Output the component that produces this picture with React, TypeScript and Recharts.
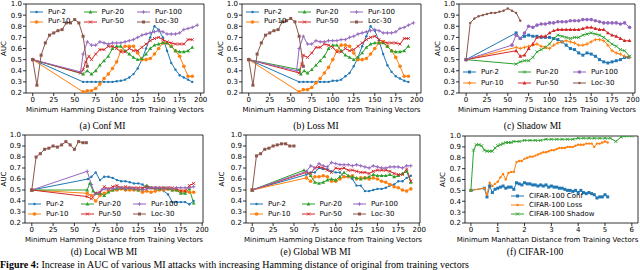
import React from 'react';
import { LineChart, Line, XAxis, YAxis, ReferenceArea } from 'recharts';

type Pt = [number, number];

const aucTicks = [0.2, 0.3, 0.4, 0.5, 0.6, 0.7, 0.8, 0.9, 1.0];
const hammingTicks = [0, 25, 50, 75, 100, 125, 150, 175, 200];
const manhattanTicks = [0, 1, 2, 3, 4, 5, 6];
const purNames = ['Pur-2', 'Pur-10', 'Pur-20', 'Pur-50', 'Pur-100', 'Loc-30'];
const cifarNames = ['CIFAR-100 Conf', 'CIFAR-100 Loss', 'CIFAR-100 Shadow'];
const hammingLabel = 'Minimum Hamming Distance from Training Vectors';
const manhattanLabel = 'Minimum Manhattan Distance from Training Vectors';

// (a) Conf MI
const confPur2: Pt[] = [[0,0.5],[60,0.30],[65,0.30],[70,0.30],[75,0.30],[80,0.30],[85,0.30],[90,0.30],[95,0.30],[100,0.305],[105,0.31],[110,0.32],[115,0.34],[120,0.37],[125,0.42],[130,0.50],[135,0.60],[140,0.70],[145,0.80],[150,0.77],[155,0.70],[160,0.58],[165,0.47],[170,0.41],[175,0.36],[180,0.34],[185,0.32],[190,0.30]];
const confPur10: Pt[] = [[0,0.5],[60,0.21],[65,0.22],[70,0.22],[75,0.24],[80,0.28],[85,0.33],[90,0.37],[95,0.42],[100,0.48],[105,0.58],[110,0.62],[115,0.62],[120,0.62],[125,0.56],[130,0.50],[135,0.50],[140,0.51],[145,0.55],[150,0.60],[155,0.65],[160,0.65],[165,0.62],[170,0.58],[175,0.53],[180,0.44],[185,0.35],[190,0.35]];
const confPur20: Pt[] = [[0,0.5],[60,0.37],[65,0.40],[70,0.37],[75,0.40],[80,0.45],[85,0.49],[90,0.53],[95,0.60],[100,0.62],[105,0.62],[110,0.58],[115,0.55],[120,0.52],[125,0.50],[130,0.51],[135,0.55],[140,0.60],[145,0.63],[150,0.64],[155,0.65],[160,0.65],[165,0.62],[170,0.58],[175,0.57],[180,0.57],[185,0.58],[190,0.61]];
const confPur50: Pt[] = [[0,0.5],[57,0.38],[60,0.41],[63,0.48],[67,0.53],[70,0.50],[75,0.55],[80,0.59],[85,0.59],[90,0.62],[95,0.62],[100,0.60],[105,0.57],[110,0.57],[115,0.60],[120,0.58],[125,0.58],[130,0.61],[135,0.64],[140,0.67],[145,0.69],[150,0.70],[155,0.68],[160,0.66],[165,0.65],[170,0.64],[175,0.64],[180,0.64],[185,0.68],[190,0.68]];
const confPur100: Pt[] = [[0,0.5],[57,0.39],[60,0.55],[65,0.66],[70,0.63],[75,0.63],[80,0.66],[85,0.65],[90,0.64],[95,0.65],[100,0.65],[105,0.65],[110,0.66],[115,0.67],[120,0.68],[125,0.70],[130,0.72],[135,0.73],[140,0.74],[145,0.75],[150,0.76],[155,0.75],[160,0.73],[165,0.73],[170,0.73],[175,0.74],[180,0.77],[185,0.78],[190,0.79],[196,0.81]];
const confLoc30: Pt[] = [[0,0.5],[5,0.27],[10,0.54],[15,0.65],[20,0.72],[25,0.74],[30,0.76],[35,0.77],[40,0.83],[45,0.83],[50,0.86],[55,0.83],[60,0.71],[65,0.44]];

// (b) Loss MI
const lossPur2: Pt[] = [[0,0.5],[60,0.30],[65,0.30],[70,0.30],[75,0.30],[80,0.30],[85,0.30],[90,0.30],[95,0.30],[100,0.31],[105,0.31],[110,0.32],[115,0.35],[120,0.38],[125,0.44],[130,0.52],[135,0.62],[140,0.71],[145,0.80],[150,0.76],[155,0.67],[160,0.55],[165,0.45],[170,0.39],[175,0.35],[180,0.33],[185,0.31],[190,0.30]];
const lossPur10: Pt[] = [[0,0.5],[60,0.21],[65,0.23],[70,0.23],[75,0.25],[80,0.29],[85,0.33],[90,0.38],[95,0.43],[100,0.50],[105,0.58],[110,0.63],[115,0.63],[120,0.62],[125,0.56],[130,0.50],[135,0.50],[140,0.51],[145,0.55],[150,0.60],[155,0.65],[160,0.66],[165,0.62],[170,0.58],[175,0.52],[180,0.44],[185,0.35],[190,0.35]];
const lossPur20: Pt[] = [[0,0.5],[60,0.41],[62,0.37],[66,0.40],[70,0.38],[75,0.41],[80,0.45],[85,0.49],[90,0.53],[95,0.60],[100,0.63],[105,0.63],[110,0.58],[115,0.54],[120,0.52],[125,0.50],[130,0.52],[135,0.56],[140,0.61],[145,0.64],[150,0.65],[155,0.65],[160,0.65],[165,0.62],[170,0.58],[175,0.57],[180,0.57],[185,0.58],[190,0.62]];
const lossPur50: Pt[] = [[0,0.5],[60,0.38],[63,0.46],[65,0.54],[70,0.52],[75,0.56],[80,0.61],[85,0.61],[90,0.64],[95,0.63],[100,0.61],[105,0.57],[110,0.57],[115,0.60],[120,0.58],[125,0.59],[130,0.62],[135,0.65],[140,0.68],[145,0.70],[150,0.71],[155,0.68],[160,0.66],[165,0.65],[170,0.65],[175,0.65],[180,0.64],[185,0.69],[190,0.69]];
const lossPur100: Pt[] = [[0,0.5],[57,0.40],[60,0.60],[65,0.71],[70,0.64],[75,0.64],[80,0.67],[85,0.66],[90,0.66],[95,0.67],[100,0.67],[105,0.67],[110,0.68],[115,0.68],[120,0.70],[125,0.71],[130,0.73],[135,0.74],[140,0.75],[145,0.76],[150,0.77],[155,0.76],[160,0.74],[165,0.74],[170,0.74],[175,0.75],[180,0.78],[185,0.79],[190,0.81],[196,0.83]];
const lossLoc30: Pt[] = [[0,0.5],[5,0.27],[10,0.55],[15,0.65],[20,0.72],[25,0.74],[30,0.76],[35,0.77],[40,0.84],[45,0.85],[50,0.87],[55,0.84],[60,0.71],[65,0.44]];

// (c) Shadow MI
const shadowPur2: Pt[] = [[0,0.5],[60,0.74],[65,0.69],[70,0.71],[75,0.72],[80,0.71],[85,0.71],[90,0.70],[95,0.70],[100,0.70],[105,0.69],[110,0.68],[115,0.66],[120,0.63],[125,0.60],[130,0.59],[135,0.56],[140,0.54],[145,0.56],[150,0.55],[155,0.53],[160,0.50],[165,0.48],[170,0.47],[175,0.48],[180,0.49],[185,0.50],[190,0.52],[195,0.52]];
const shadowPur10: Pt[] = [[0,0.5],[60,0.61],[65,0.60],[70,0.61],[75,0.62],[80,0.63],[85,0.64],[90,0.62],[95,0.61],[100,0.60],[105,0.63],[110,0.65],[115,0.66],[120,0.67],[125,0.66],[130,0.65],[135,0.63],[140,0.63],[145,0.64],[150,0.66],[155,0.68],[160,0.68],[165,0.67],[170,0.63],[175,0.58],[180,0.56],[185,0.55],[190,0.53],[196,0.52]];
const shadowPur20: Pt[] = [[0,0.5],[60,0.46],[65,0.48],[70,0.49],[75,0.49],[80,0.52],[85,0.57],[90,0.59],[95,0.61],[100,0.64],[105,0.69],[110,0.72],[115,0.71],[120,0.70],[125,0.69],[130,0.70],[135,0.70],[140,0.72],[145,0.73],[150,0.74],[155,0.73],[160,0.72],[165,0.70],[170,0.67],[175,0.64],[180,0.62],[185,0.59],[190,0.58],[196,0.53]];
const shadowPur50: Pt[] = [[0,0.5],[60,0.58],[65,0.53],[70,0.54],[75,0.60],[80,0.64],[85,0.70],[90,0.71],[95,0.71],[100,0.74],[105,0.76],[110,0.77],[115,0.77],[120,0.77],[125,0.77],[130,0.77],[135,0.77],[140,0.78],[145,0.79],[150,0.79],[155,0.78],[160,0.77],[165,0.77],[170,0.74],[175,0.72],[180,0.71],[185,0.69],[190,0.67],[196,0.67]];
const shadowPur100: Pt[] = [[0,0.5],[55,0.63],[60,0.72],[65,0.69],[70,0.74],[75,0.80],[80,0.79],[85,0.81],[90,0.82],[95,0.82],[100,0.83],[105,0.83],[110,0.84],[115,0.84],[120,0.84],[125,0.85],[130,0.85],[135,0.85],[140,0.86],[145,0.86],[150,0.86],[155,0.85],[160,0.84],[165,0.83],[170,0.83],[175,0.83],[180,0.83],[185,0.82],[190,0.83],[196,0.79]];
const shadowLoc30: Pt[] = [[0,0.5],[5,0.83],[10,0.87],[15,0.89],[20,0.90],[25,0.91],[30,0.92],[35,0.92],[40,0.93],[45,0.94],[50,0.96],[55,0.94],[60,0.92],[65,0.85]];

// (d) Local WB MI
const localPur2: Pt[] = [[0,0.5],[66,0.60],[70,0.62],[75,0.66],[80,0.59],[85,0.62],[90,0.62],[95,0.61],[100,0.59],[105,0.58],[110,0.58],[115,0.57],[120,0.56],[125,0.56],[130,0.55],[135,0.52],[140,0.52],[145,0.51],[150,0.51],[155,0.49],[160,0.46],[165,0.39],[170,0.39],[175,0.39],[180,0.39],[185,0.37],[190,0.40]];
const localPur10: Pt[] = [[0,0.5],[65,0.47],[70,0.45],[75,0.40],[80,0.45],[85,0.47],[90,0.49],[95,0.50],[100,0.50],[105,0.51],[110,0.50],[115,0.50],[120,0.50],[125,0.50],[130,0.48],[135,0.49],[140,0.48],[145,0.49],[150,0.50],[155,0.50],[160,0.51],[165,0.50],[170,0.50],[175,0.49],[180,0.49],[185,0.48],[190,0.48]];
const localPur20: Pt[] = [[0,0.5],[65,0.50],[68,0.56],[72,0.49],[76,0.47],[80,0.47],[85,0.45],[90,0.48],[95,0.50],[100,0.51],[105,0.52],[110,0.51],[115,0.52],[120,0.51],[125,0.50],[130,0.51],[135,0.54],[140,0.52],[145,0.52],[150,0.51],[155,0.52],[160,0.51],[165,0.50],[170,0.50],[175,0.47],[180,0.47],[185,0.51],[190,0.38]];
const localPur50: Pt[] = [[0,0.5],[65,0.44],[70,0.42],[75,0.47],[80,0.48],[85,0.53],[90,0.51],[95,0.53],[100,0.54],[105,0.52],[110,0.53],[115,0.52],[120,0.52],[125,0.52],[130,0.52],[135,0.53],[140,0.52],[145,0.52],[150,0.52],[155,0.52],[160,0.52],[165,0.52],[170,0.51],[175,0.49],[180,0.49],[185,0.54],[190,0.56]];
const localPur100: Pt[] = [[0,0.5],[65,0.67],[70,0.55],[74,0.46],[78,0.47],[82,0.50],[86,0.51],[90,0.51],[95,0.51],[100,0.52],[105,0.52],[110,0.51],[115,0.52],[120,0.51],[125,0.51],[130,0.50],[135,0.51],[140,0.52],[145,0.52],[150,0.52],[155,0.51],[160,0.52],[165,0.51],[170,0.52],[175,0.52],[180,0.52],[185,0.52],[190,0.53]];
const localLoc30: Pt[] = [[0,0.5],[5,0.80],[10,0.83],[15,0.87],[20,0.88],[25,0.90],[30,0.89],[35,0.91],[40,0.94],[45,0.91],[50,0.87],[55,0.94],[60,0.93],[64,0.93]];

// (e) Global WB MI
const globalPur2: Pt[] = [[0,0.5],[65,0.64],[70,0.66],[75,0.66],[80,0.70],[85,0.69],[90,0.69],[95,0.67],[100,0.66],[105,0.66],[110,0.62],[115,0.62],[120,0.60],[125,0.54],[130,0.54],[135,0.49],[140,0.49],[145,0.50],[150,0.51],[155,0.51],[160,0.52],[165,0.54],[170,0.55],[175,0.58],[180,0.58],[185,0.61],[190,0.63]];
const globalPur10: Pt[] = [[0,0.5],[65,0.61],[70,0.58],[75,0.62],[80,0.62],[85,0.63],[90,0.62],[95,0.58],[100,0.58],[105,0.60],[110,0.62],[115,0.62],[120,0.63],[125,0.60],[130,0.61],[135,0.61],[140,0.60],[145,0.61],[150,0.60],[155,0.58],[160,0.57],[165,0.55],[170,0.53],[175,0.52],[180,0.50],[185,0.49],[190,0.51]];
const globalPur20: Pt[] = [[0,0.5],[62,0.68],[70,0.63],[75,0.57],[80,0.56],[85,0.57],[90,0.59],[95,0.60],[100,0.59],[105,0.62],[110,0.66],[115,0.63],[120,0.62],[125,0.61],[130,0.60],[135,0.61],[140,0.62],[145,0.64],[150,0.63],[155,0.63],[160,0.63],[165,0.64],[170,0.62],[175,0.63],[180,0.65],[185,0.67],[190,0.57]];
const globalPur50: Pt[] = [[0,0.5],[65,0.66],[70,0.65],[75,0.70],[80,0.71],[85,0.70],[90,0.68],[95,0.66],[100,0.70],[105,0.69],[110,0.70],[115,0.68],[120,0.68],[125,0.67],[130,0.66],[135,0.66],[140,0.65],[145,0.67],[150,0.68],[155,0.68],[160,0.68],[165,0.67],[170,0.65],[175,0.64],[180,0.64],[185,0.69],[190,0.58]];
const globalPur100: Pt[] = [[0,0.5],[65,0.67],[70,0.72],[75,0.70],[80,0.74],[85,0.72],[90,0.71],[95,0.75],[100,0.74],[105,0.73],[110,0.73],[115,0.73],[120,0.72],[125,0.73],[130,0.72],[135,0.71],[140,0.70],[145,0.72],[150,0.71],[155,0.70],[160,0.70],[165,0.71],[170,0.71],[175,0.71],[180,0.70],[185,0.72],[190,0.72]];
const globalLoc30: Pt[] = [[0,0.5],[5,0.81],[10,0.83],[15,0.87],[20,0.88],[25,0.90],[30,0.91],[35,0.92],[40,0.92],[45,0.90],[50,0.90]];

// (f) CIFAR-100
const cifarConf: Pt[] = [[0,0.50],[0.5,0.52],[0.6,0.44],[0.7,0.54],[0.8,0.48],[0.9,0.51],[1.0,0.52],[1.1,0.53],[1.2,0.54],[1.3,0.52],[1.4,0.53],[1.5,0.53],[1.6,0.51],[1.7,0.57],[1.8,0.56],[1.9,0.55],[2.0,0.57],[2.1,0.56],[2.2,0.56],[2.3,0.55],[2.4,0.55],[2.5,0.54],[2.6,0.55],[2.7,0.54],[2.8,0.55],[2.9,0.53],[3.0,0.54],[3.1,0.53],[3.2,0.53],[3.3,0.52],[3.4,0.52],[3.5,0.51],[3.6,0.50],[3.7,0.50],[3.8,0.49],[3.9,0.50],[4.0,0.48],[4.1,0.50],[4.2,0.48],[4.3,0.47],[4.4,0.48],[4.5,0.47],[4.6,0.46],[4.7,0.43],[4.8,0.44],[4.9,0.44],[5.0,0.46],[5.1,0.44]];
const cifarLoss: Pt[] = [[0,0.50],[0.5,0.52],[0.6,0.46],[0.7,0.57],[0.8,0.54],[0.9,0.56],[1.0,0.58],[1.1,0.62],[1.2,0.65],[1.3,0.60],[1.4,0.66],[1.5,0.67],[1.6,0.67],[1.7,0.76],[1.8,0.77],[1.9,0.77],[2.0,0.79],[2.1,0.80],[2.2,0.81],[2.3,0.81],[2.4,0.82],[2.5,0.83],[2.6,0.84],[2.7,0.85],[2.8,0.85],[2.9,0.86],[3.0,0.87],[3.1,0.87],[3.2,0.88],[3.3,0.89],[3.4,0.89],[3.5,0.89],[3.6,0.90],[3.7,0.90],[3.8,0.90],[3.9,0.91],[4.0,0.92],[4.1,0.92],[4.2,0.92],[4.3,0.93],[4.4,0.93],[4.5,0.93],[4.6,0.90],[4.7,0.93],[4.8,0.93],[4.9,0.94],[5.0,0.95],[5.1,0.94]];
const cifarShadow: Pt[] = [[0,0.50],[0.1,0.87],[0.2,0.92],[0.3,0.92],[0.4,0.91],[0.5,0.87],[0.6,0.86],[0.7,0.86],[0.8,0.86],[0.9,0.89],[1.0,0.91],[1.1,0.92],[1.2,0.93],[1.3,0.94],[1.4,0.94],[1.5,0.94],[1.6,0.95],[1.8,0.95],[2.0,0.96],[2.2,0.96],[2.4,0.96],[2.6,0.96],[2.8,0.97],[3.0,0.97],[3.2,0.97],[3.4,0.97],[3.6,0.97],[3.8,0.97],[4.0,0.98],[4.2,0.98],[4.4,0.98],[4.6,0.98],[4.8,0.98],[5.0,0.98],[5.2,0.98],[5.4,0.95],[5.6,0.99],[5.8,1.0],[6.0,1.0]];

const colors = ['#1f77b4', '#ff7f0e', '#2ca02c', '#d62728', '#9467bd', '#8c564b'];
const markersA = ['.', 'o', '^', 'x', '+', 's'];
const markersC = ['s', '+', 'x', '^', 'o', '.'];
const markersF = ['s', '.', 'x'];

interface Series { name: string; pts: Pt[]; color: string; marker: string }
interface PanelCfg {
  x0: number; y0: number;
  plot: { l: number; r: number; t: number; b: number };
  padR: number;
  domain: [number, number];
  xTicks: number[];
  xLabel: string;
  labelDx: number;
  aucX: number;
  series: Series[];
  legend: { x: number; y: number; colW: number; rowH: number; rows: number };
  caption: string; capX: number; capY: number;
}

const mk = (sets: Pt[][], names: string[], markers: string[]): Series[] =>
  sets.map((pts, i) => ({ name: names[i], pts, color: colors[i], marker: markers[i] }));

function marker(kind: string, cx: number, cy: number, color: string, key?: string) {
  if (cx == null || cy == null || isNaN(cx) || isNaN(cy)) return <g key={key} />;
  switch (kind) {
    case '.': return <circle key={key} cx={cx} cy={cy} r={1.2} fill={color} />;
    case 'o': return <circle key={key} cx={cx} cy={cy} r={1.8} fill={color} />;
    case 's': return <rect key={key} x={cx - 1.5} y={cy - 1.5} width={3} height={3} fill={color} />;
    case '^': return <polygon key={key} points={`${cx},${cy - 2} ${cx - 1.9},${cy + 1.4} ${cx + 1.9},${cy + 1.4}`} fill={color} />;
    case 'x': return <path key={key} d={`M${cx - 1.5},${cy - 1.5}L${cx + 1.5},${cy + 1.5}M${cx - 1.5},${cy + 1.5}L${cx + 1.5},${cy - 1.5}`} stroke={color} strokeWidth={0.9} />;
    case '+': return <path key={key} d={`M${cx - 1.8},${cy}L${cx + 1.8},${cy}M${cx},${cy - 1.8}L${cx},${cy + 1.8}`} stroke={color} strokeWidth={0.9} />;
  }
  return <g key={key} />;
}

const panels: PanelCfg[] = [
  { x0: 0, y0: 0, plot: { l: 26, r: 204, t: 4, b: 93 }, padR: 8, domain: [-8, 204], xTicks: hammingTicks, xLabel: hammingLabel, labelDx: 0, aucX: 4,
    series: mk([confPur2, confPur10, confPur20, confPur50, confPur100, confLoc30], purNames, markersA),
    legend: { x: 30, y: 12, colW: 53.5, rowH: 9.5, rows: 2 }, caption: '(a) Conf MI', capX: 102.5, capY: 126 },
  { x0: 213, y0: 0, plot: { l: 242, r: 421, t: 4, b: 93 }, padR: 5, domain: [-8, 205], xTicks: hammingTicks, xLabel: hammingLabel, labelDx: 0, aucX: 221,
    series: mk([lossPur2, lossPur10, lossPur20, lossPur50, lossPur100, lossLoc30], purNames, markersA),
    legend: { x: 246, y: 12, colW: 52, rowH: 9.5, rows: 2 }, caption: '(b) Loss MI', capX: 316, capY: 126 },
  { x0: 426, y0: 0, plot: { l: 459, r: 635, t: 4, b: 93 }, padR: 5, domain: [-8.5, 202.5], xTicks: hammingTicks, xLabel: hammingLabel, labelDx: 0, aucX: 438,
    series: mk([shadowPur2, shadowPur10, shadowPur20, shadowPur50, shadowPur100, shadowLoc30], purNames, markersC),
    legend: { x: 463, y: 72, colW: 55, rowH: 11, rows: 2 }, caption: '(c) Shadow MI', capX: 532.5, capY: 126 },
  { x0: 0, y0: 131, plot: { l: 25, r: 203, t: 135, b: 223 }, padR: 8, domain: [-8, 201], xTicks: hammingTicks, xLabel: hammingLabel, labelDx: 0, aucX: 4,
    series: mk([localPur2, localPur10, localPur20, localPur50, localPur100, localLoc30], purNames, markersA),
    legend: { x: 28, y: 204, colW: 52.5, rowH: 10, rows: 2 }, caption: '(d) Local WB MI', capX: 104, capY: 252 },
  { x0: 213, y0: 131, plot: { l: 246, r: 420, t: 135, b: 223 }, padR: 6, domain: [-7.5, 201], xTicks: hammingTicks, xLabel: hammingLabel, labelDx: 0, aucX: 222,
    series: mk([globalPur2, globalPur10, globalPur20, globalPur50, globalPur100, globalLoc30], purNames, markersA),
    legend: { x: 250, y: 204, colW: 51.5, rowH: 10, rows: 2 }, caption: '(e) Global WB MI', capX: 315.5, capY: 252 },
  { x0: 426, y0: 131, plot: { l: 465, r: 638, t: 136, b: 223 }, padR: 2, domain: [-0.22, 6.23], xTicks: manhattanTicks, xLabel: manhattanLabel, labelDx: -4, aucX: 443,
    series: mk([cifarConf, cifarLoss, cifarShadow], cifarNames, markersF),
    legend: { x: 511, y: 196, colW: 0, rowH: 9.2, rows: 3 }, caption: '(f) CIFAR-100', capX: 535, capY: 252 },
];

const sans = 'DejaVu Sans';
const tickStyle = { fontSize: 7, fill: '#000', fontFamily: sans };

function Panel({ cfg }: { cfg: PanelCfg }) {
  const { x0, y0, plot, legend } = cfg;
  const width = plot.r - x0 + cfg.padR;
  const height = plot.b - y0 + 24;
  return (
    <>
      <div style={{ position: 'absolute', left: x0, top: y0 }}>
        <LineChart width={width} height={height} margin={{ top: plot.t - y0, right: cfg.padR, bottom: 4, left: 0 }} style={{ fontFamily: sans }}>
          <XAxis
            type="number"
            dataKey="x"
            domain={cfg.domain}
            allowDataOverflow
            ticks={cfg.xTicks}
            interval={0}
            height={20}
            tickSize={3}
            tickMargin={1}
            tick={tickStyle}
            axisLine={false}
            tickLine={{ stroke: '#000', strokeWidth: 0.8 }}
            label={{ value: cfg.xLabel, position: 'insideBottom', offset: 1, dx: cfg.labelDx, style: { fontSize: 7, fill: '#000', fontFamily: sans } }}
          />
          <YAxis
            type="number"
            domain={[0.2, 1.0]}
            allowDataOverflow
            ticks={aucTicks}
            interval={0}
            width={plot.l - x0}
            tickSize={3}
            tickMargin={1}
            tick={tickStyle}
            axisLine={false}
            tickLine={{ stroke: '#000', strokeWidth: 0.8 }}
            tickFormatter={(v: number) => v.toFixed(1)}
            label={{ value: 'AUC', angle: -90, position: 'insideLeft', offset: cfg.aucX - x0, style: { fontSize: 7, fill: '#000', fontFamily: sans, textAnchor: 'middle' } }}
          />
          <ReferenceArea x1={cfg.domain[0]} x2={cfg.domain[1]} y1={0.2} y2={1.0} fill="none" stroke="#000" strokeWidth={0.8} ifOverflow="visible" />
          {cfg.series.map((s) => (
            <Line
              key={s.name}
              data={s.pts.map(([x, y]) => ({ x, y }))}
              dataKey="y"
              type="linear"
              stroke={s.color}
              strokeWidth={1}
              dot={(p: any) => marker(s.marker, p.cx, p.cy, s.color, `${s.name}-${p.index}`)}
              activeDot={false}
              isAnimationActive={false}
            />
          ))}
        </LineChart>
      </div>
      {cfg.series.map((s, i) => {
        const col = Math.floor(i / legend.rows);
        const row = i % legend.rows;
        const lx = legend.x + col * legend.colW;
        const ly = legend.y + row * legend.rowH;
        return (
          <div key={`lg-${s.name}`} style={{ position: 'absolute', left: lx, top: ly - 4.5, height: 9, display: 'flex', alignItems: 'center', whiteSpace: 'nowrap', fontFamily: sans, fontSize: 7, color: '#000' }}>
            <svg width={14} height={8} style={{ display: 'block' }}>
              <line x1={0} y1={4} x2={13} y2={4} stroke={s.color} strokeWidth={1} />
              {marker(s.marker, 6.5, 4, s.color)}
            </svg>
            <span style={{ marginLeft: 4, lineHeight: '9px' }}>{s.name}</span>
          </div>
        );
      })}
      <div style={{ position: 'absolute', left: cfg.capX - 60, width: 120, top: cfg.capY - 6, lineHeight: '12px', textAlign: 'center', fontFamily: '"Liberation Serif", "DejaVu Serif", serif', fontSize: 9.5, color: '#000' }}>
        {cfg.caption}
      </div>
    </>
  );
}

export default function App() {
  return (
    <div style={{ position: 'relative', width: 640, height: 270, overflow: 'hidden', background: '#fff' }}>
      <style>{'body{margin:0}'}</style>
      {panels.map((p) => (
        <Panel key={p.caption} cfg={p} />
      ))}
      <div style={{ position: 'absolute', left: 0, top: 259, whiteSpace: 'nowrap', fontFamily: '"Liberation Serif", serif', fontSize: 10, lineHeight: '11px', color: '#000' }}>
        <b>Figure 4:</b> Increase in AUC of various MI attacks with increasing Hamming distance of original from training vectors
      </div>
    </div>
  );
}
